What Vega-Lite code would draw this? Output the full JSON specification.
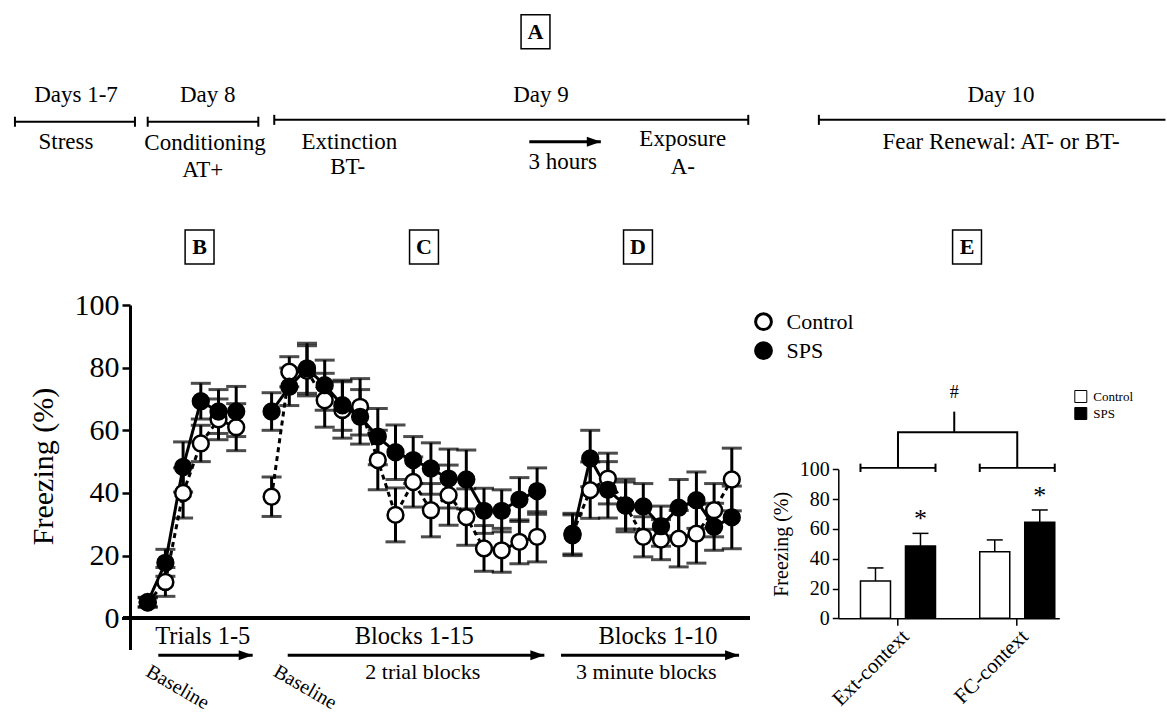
{
  "$schema": "https://vega.github.io/schema/vega-lite/v6.json",
  "padding": {"left": 13, "top": 11, "right": 0, "bottom": 0},
  "background": "white",
  "config": {
    "font": "Liberation Serif",
    "view": {"stroke": null},
    "axis": {"grid": false, "domainColor": "black", "tickColor": "black", "labelColor": "black", "titleColor": "black", "titleFontWeight": "normal"},
    "legend": {"labelColor": "black"},
    "text": {"color": "black"}
  },
  "datasets": {
    "sessions": [
      {"phase": "Conditioning", "session": 0, "group": "Control", "freezing": 5.0, "sem": 1.5},
      {"phase": "Conditioning", "session": 0, "group": "SPS", "freezing": 5.2, "sem": 1.5},
      {"phase": "Conditioning", "session": 1, "group": "Control", "freezing": 11.6, "sem": 4.6},
      {"phase": "Conditioning", "session": 1, "group": "SPS", "freezing": 17.7, "sem": 4.3},
      {"phase": "Conditioning", "session": 2, "group": "Control", "freezing": 40.0, "sem": 8.0},
      {"phase": "Conditioning", "session": 2, "group": "SPS", "freezing": 48.3, "sem": 8.0},
      {"phase": "Conditioning", "session": 3, "group": "Control", "freezing": 55.8, "sem": 5.8},
      {"phase": "Conditioning", "session": 3, "group": "SPS", "freezing": 69.3, "sem": 5.7},
      {"phase": "Conditioning", "session": 4, "group": "Control", "freezing": 63.5, "sem": 6.5},
      {"phase": "Conditioning", "session": 4, "group": "SPS", "freezing": 66.0, "sem": 7.0},
      {"phase": "Conditioning", "session": 5, "group": "Control", "freezing": 61.0, "sem": 7.5},
      {"phase": "Conditioning", "session": 5, "group": "SPS", "freezing": 66.0, "sem": 8.0},
      {"phase": "Extinction", "session": 7, "group": "Control", "freezing": 38.8, "sem": 6.3},
      {"phase": "Extinction", "session": 7, "group": "SPS", "freezing": 66.0, "sem": 6.0},
      {"phase": "Extinction", "session": 8, "group": "Control", "freezing": 78.7, "sem": 4.8},
      {"phase": "Extinction", "session": 8, "group": "SPS", "freezing": 73.9, "sem": 6.0},
      {"phase": "Extinction", "session": 9, "group": "Control", "freezing": 79.0, "sem": 8.0},
      {"phase": "Extinction", "session": 9, "group": "SPS", "freezing": 79.8, "sem": 8.0},
      {"phase": "Extinction", "session": 10, "group": "Control", "freezing": 69.6, "sem": 8.6},
      {"phase": "Extinction", "session": 10, "group": "SPS", "freezing": 74.4, "sem": 8.0},
      {"phase": "Extinction", "session": 11, "group": "Control", "freezing": 66.5, "sem": 9.0},
      {"phase": "Extinction", "session": 11, "group": "SPS", "freezing": 68.0, "sem": 8.0},
      {"phase": "Extinction", "session": 12, "group": "Control", "freezing": 67.5, "sem": 9.0},
      {"phase": "Extinction", "session": 12, "group": "SPS", "freezing": 64.3, "sem": 8.7},
      {"phase": "Extinction", "session": 13, "group": "Control", "freezing": 50.5, "sem": 9.5},
      {"phase": "Extinction", "session": 13, "group": "SPS", "freezing": 58.0, "sem": 9.0},
      {"phase": "Extinction", "session": 14, "group": "Control", "freezing": 33.0, "sem": 8.6},
      {"phase": "Extinction", "session": 14, "group": "SPS", "freezing": 53.0, "sem": 8.7},
      {"phase": "Extinction", "session": 15, "group": "Control", "freezing": 43.5, "sem": 8.0},
      {"phase": "Extinction", "session": 15, "group": "SPS", "freezing": 50.5, "sem": 7.5},
      {"phase": "Extinction", "session": 16, "group": "Control", "freezing": 34.5, "sem": 8.5},
      {"phase": "Extinction", "session": 16, "group": "SPS", "freezing": 47.8, "sem": 8.2},
      {"phase": "Extinction", "session": 17, "group": "Control", "freezing": 39.3, "sem": 9.6},
      {"phase": "Extinction", "session": 17, "group": "SPS", "freezing": 44.6, "sem": 9.4},
      {"phase": "Extinction", "session": 18, "group": "Control", "freezing": 32.3, "sem": 9.0},
      {"phase": "Extinction", "session": 18, "group": "SPS", "freezing": 44.3, "sem": 9.4},
      {"phase": "Extinction", "session": 19, "group": "Control", "freezing": 22.3, "sem": 7.3},
      {"phase": "Extinction", "session": 19, "group": "SPS", "freezing": 34.3, "sem": 7.2},
      {"phase": "Extinction", "session": 20, "group": "Control", "freezing": 21.7, "sem": 7.0},
      {"phase": "Extinction", "session": 20, "group": "SPS", "freezing": 34.3, "sem": 6.7},
      {"phase": "Extinction", "session": 21, "group": "Control", "freezing": 24.4, "sem": 7.0},
      {"phase": "Extinction", "session": 21, "group": "SPS", "freezing": 37.9, "sem": 7.0},
      {"phase": "Extinction", "session": 22, "group": "Control", "freezing": 26.0, "sem": 8.0},
      {"phase": "Extinction", "session": 22, "group": "SPS", "freezing": 40.6, "sem": 7.4},
      {"phase": "Exposure", "session": 24, "group": "Control", "freezing": 27.0, "sem": 6.5},
      {"phase": "Exposure", "session": 24, "group": "SPS", "freezing": 26.5, "sem": 6.5},
      {"phase": "Exposure", "session": 25, "group": "Control", "freezing": 40.9, "sem": 9.0},
      {"phase": "Exposure", "session": 25, "group": "SPS", "freezing": 51.0, "sem": 9.0},
      {"phase": "Exposure", "session": 26, "group": "Control", "freezing": 44.6, "sem": 8.1},
      {"phase": "Exposure", "session": 26, "group": "SPS", "freezing": 41.0, "sem": 9.0},
      {"phase": "Exposure", "session": 27, "group": "Control", "freezing": 36.0, "sem": 8.4},
      {"phase": "Exposure", "session": 27, "group": "SPS", "freezing": 36.0, "sem": 7.5},
      {"phase": "Exposure", "session": 28, "group": "Control", "freezing": 26.0, "sem": 6.4},
      {"phase": "Exposure", "session": 28, "group": "SPS", "freezing": 35.7, "sem": 7.3},
      {"phase": "Exposure", "session": 29, "group": "Control", "freezing": 25.1, "sem": 6.4},
      {"phase": "Exposure", "session": 29, "group": "SPS", "freezing": 29.4, "sem": 6.4},
      {"phase": "Exposure", "session": 30, "group": "Control", "freezing": 25.4, "sem": 9.0},
      {"phase": "Exposure", "session": 30, "group": "SPS", "freezing": 35.3, "sem": 9.0},
      {"phase": "Exposure", "session": 31, "group": "Control", "freezing": 27.0, "sem": 9.4},
      {"phase": "Exposure", "session": 31, "group": "SPS", "freezing": 37.7, "sem": 9.0},
      {"phase": "Exposure", "session": 32, "group": "Control", "freezing": 34.5, "sem": 8.5},
      {"phase": "Exposure", "session": 32, "group": "SPS", "freezing": 29.2, "sem": 7.5},
      {"phase": "Exposure", "session": 33, "group": "Control", "freezing": 44.3, "sem": 10.0},
      {"phase": "Exposure", "session": 33, "group": "SPS", "freezing": 32.2, "sem": 10.0}
    ],
    "timeline": [
      {"start": -7.5, "end": -0.72, "level": 158.5},
      {"start": 0, "end": 6.25, "level": 158.5},
      {"start": 7.15, "end": 33.93, "level": 159.1},
      {"start": 37.92, "end": 57.5, "level": 159.1}
    ],
    "timeticks": [
      {"at": -7.5, "lo": 156.9, "hi": 160.1},
      {"at": -0.72, "lo": 156.9, "hi": 160.1},
      {"at": 0, "lo": 156.9, "hi": 160.1},
      {"at": 6.25, "lo": 156.9, "hi": 160.1},
      {"at": 7.15, "lo": 157.5, "hi": 160.7},
      {"at": 33.93, "lo": 157.5, "hi": 160.7},
      {"at": 37.92, "lo": 157.5, "hi": 160.7}
    ],
    "arrows": [
      {"start": 21.56, "end": 25.6, "level": 152.1},
      {"start": 0.6, "end": 5.93, "level": -11.81},
      {"start": 7.91, "end": 22.41, "level": -11.81},
      {"start": 23.35, "end": 33.41, "level": -11.81}
    ],
    "timelabels": [
      {"label": "Days 1-7", "at": -4.05, "level": 167.0},
      {"label": "Stress", "at": -4.62, "level": 152.1},
      {"label": "Day 8", "at": 3.39, "level": 167.0},
      {"label": "Conditioning", "at": 3.24, "level": 151.6},
      {"label": "AT+", "at": 3.11, "level": 143.0},
      {"label": "Extinction", "at": 11.39, "level": 152.1},
      {"label": "BT-", "at": 11.3, "level": 144.2},
      {"label": "Day 9", "at": 22.22, "level": 167.0},
      {"label": "3 hours", "at": 23.45, "level": 145.8},
      {"label": "Exposure", "at": 30.23, "level": 152.9},
      {"label": "A-", "at": 30.23, "level": 144.0},
      {"label": "Day 10", "at": 48.21, "level": 167.0},
      {"label": "Fear Renewal: AT- or BT-", "at": 48.21, "level": 152.1}
    ],
    "phaselabels": [
      {"label": "Trials 1-5", "at": 3.11, "level": -5.97},
      {"label": "Blocks 1-15", "at": 15.06, "level": -5.97},
      {"label": "Blocks 1-10", "at": 28.83, "level": -5.97}
    ],
    "sublabels": [
      {"label": "2 trial blocks", "at": 15.54, "level": -17.14},
      {"label": "3 minute blocks", "at": 28.17, "level": -17.14}
    ],
    "baselines": [
      {"label": "Baseline", "at": 1.69, "level": -22.0},
      {"label": "Baseline", "at": 8.89, "level": -22.0}
    ],
    "panels": [
      {"label": "A", "at": 21.91, "level": 187.2},
      {"label": "B", "at": 2.93, "level": 118.5},
      {"label": "C", "at": 15.61, "level": 118.5},
      {"label": "D", "at": 27.7, "level": 118.5},
      {"label": "E", "at": 46.29, "level": 118.5}
    ],
    "contexts": [
      {"context": "Ext-context", "group": "Control", "freezing": 25.1, "upper": 33.8},
      {"context": "Ext-context", "group": "SPS", "freezing": 48.5, "upper": 57.0},
      {"context": "FC-context", "group": "Control", "freezing": 44.7, "upper": 52.6},
      {"context": "FC-context", "group": "SPS", "freezing": 64.4, "upper": 72.7}
    ],
    "bracket": [
      {"context": "Ext-context", "level": 101, "step": 1},
      {"context": "Ext-context", "level": 124.8, "step": 2},
      {"context": "FC-context", "level": 124.8, "step": 3},
      {"context": "FC-context", "level": 101, "step": 4}
    ],
    "bracketends": [
      {"context": "Ext-context"},
      {"context": "FC-context"}
    ],
    "hub": [
      {"context": "Ext-context", "label": "#"}
    ]
  },
  "hconcat": [
    {
      "width": 619.5,
      "height": 344.6,
      "layer": [
        {
          "data": {"name": "sessions"},
          "mark": {"type": "line", "color": "black", "strokeWidth": 3},
          "encoding": {
            "x": {"field": "session", "type": "quantitative", "scale": {"domain": [-1, 34], "nice": false, "zero": false}, "axis": null},
            "y": {"field": "freezing", "type": "quantitative", "title": "Freezing (%)", "scale": {"domain": [-10, 100], "nice": false, "zero": false},
              "axis": {"values": [0, 20, 40, 60, 80, 100], "title": "Freezing (%)", "titleFontSize": 30, "labelFontSize": 30, "tickSize": 8, "tickWidth": 2.5, "domainWidth": 3, "labelPadding": 3, "titlePadding": 16, "titleY": 161, "labelFlush": false}},
            "detail": {"field": "phase", "type": "nominal"},
            "strokeDash": {"field": "group", "type": "nominal", "scale": {"domain": ["Control", "SPS"], "range": [[5, 4], [1, 0]]}, "legend": null}
          }
        },
        {
          "data": {"name": "sessions"},
          "mark": {"type": "errorbar", "color": "black", "thickness": 3, "size": 20, "ticks": true},
          "encoding": {
            "x": {"field": "session", "type": "quantitative", "axis": null},
            "y": {"field": "freezing", "type": "quantitative", "title": "Freezing (%)"},
            "yError": {"field": "sem"}
          }
        },
        {
          "data": {"name": "sessions"},
          "mark": {"type": "point", "shape": "circle", "filled": true, "size": 250, "stroke": "black", "strokeWidth": 2.5, "opacity": 1},
          "encoding": {
            "x": {"field": "session", "type": "quantitative", "axis": null},
            "y": {"field": "freezing", "type": "quantitative", "title": "Freezing (%)"},
            "fill": {"field": "group", "type": "nominal", "scale": {"domain": ["Control", "SPS"], "range": ["white", "black"]},
              "legend": {"title": null, "orient": "none", "legendX": 622.5, "legendY": 5.7, "labelFontSize": 22, "symbolSize": 250, "symbolStrokeColor": "black", "symbolStrokeWidth": 3, "symbolType": "circle", "padding": 0, "labelOffset": 12, "rowPadding": 1}}
          }
        },
        {
          "data": {"name": "sessions"},
          "mark": {"type": "rule", "color": "black", "strokeWidth": 3},
          "encoding": {
            "x": {"datum": -1.4, "type": "quantitative", "axis": null},
            "x2": {"datum": 34},
            "y": {"datum": 0, "type": "quantitative", "title": "Freezing (%)"}
          }
        },
        {
          "data": {"name": "timeline"},
          "mark": {"type": "rule", "color": "black", "strokeWidth": 2},
          "encoding": {
            "x": {"field": "start", "type": "quantitative", "axis": null},
            "x2": {"field": "end"},
            "y": {"field": "level", "type": "quantitative", "title": "Freezing (%)"}
          }
        },
        {
          "data": {"name": "timeticks"},
          "mark": {"type": "rule", "color": "black", "strokeWidth": 2},
          "encoding": {
            "x": {"field": "at", "type": "quantitative", "axis": null},
            "y": {"field": "lo", "type": "quantitative", "title": "Freezing (%)"},
            "y2": {"field": "hi"}
          }
        },
        {
          "data": {"name": "arrows"},
          "mark": {"type": "rule", "color": "black", "strokeWidth": 3},
          "encoding": {
            "x": {"field": "start", "type": "quantitative", "axis": null},
            "x2": {"field": "end"},
            "y": {"field": "level", "type": "quantitative", "title": "Freezing (%)"}
          }
        },
        {
          "data": {"name": "arrows"},
          "mark": {"type": "point", "shape": "M0,0L-1,-0.36L-1,0.36Z", "size": 784, "filled": true, "color": "black", "opacity": 1},
          "encoding": {
            "x": {"field": "end", "type": "quantitative", "axis": null},
            "y": {"field": "level", "type": "quantitative", "title": "Freezing (%)"}
          }
        },
        {
          "data": {"name": "timelabels"},
          "mark": {"type": "text", "fontSize": 23, "align": "center", "baseline": "middle"},
          "encoding": {
            "x": {"field": "at", "type": "quantitative", "axis": null},
            "y": {"field": "level", "type": "quantitative", "title": "Freezing (%)"},
            "text": {"field": "label"}
          }
        },
        {
          "data": {"name": "phaselabels"},
          "mark": {"type": "text", "fontSize": 24.5, "align": "center", "baseline": "middle"},
          "encoding": {
            "x": {"field": "at", "type": "quantitative", "axis": null},
            "y": {"field": "level", "type": "quantitative", "title": "Freezing (%)"},
            "text": {"field": "label"}
          }
        },
        {
          "data": {"name": "sublabels"},
          "mark": {"type": "text", "fontSize": 22, "align": "center", "baseline": "middle"},
          "encoding": {
            "x": {"field": "at", "type": "quantitative", "axis": null},
            "y": {"field": "level", "type": "quantitative", "title": "Freezing (%)"},
            "text": {"field": "label"}
          }
        },
        {
          "data": {"name": "baselines"},
          "mark": {"type": "text", "fontSize": 20, "angle": 30, "align": "center", "baseline": "middle"},
          "encoding": {
            "x": {"field": "at", "type": "quantitative", "axis": null},
            "y": {"field": "level", "type": "quantitative", "title": "Freezing (%)"},
            "text": {"field": "label"}
          }
        },
        {
          "data": {"name": "panels"},
          "mark": {"type": "point", "shape": "M-0.85,-1H0.85V1H-0.85Z", "size": 1156, "filled": false, "stroke": "black", "strokeWidth": 1.5, "opacity": 1},
          "encoding": {
            "x": {"field": "at", "type": "quantitative", "axis": null},
            "y": {"field": "level", "type": "quantitative", "title": "Freezing (%)"}
          }
        },
        {
          "data": {"name": "panels"},
          "mark": {"type": "text", "fontSize": 22, "fontWeight": "bold", "align": "center", "baseline": "middle"},
          "encoding": {
            "x": {"field": "at", "type": "quantitative", "axis": null},
            "y": {"field": "level", "type": "quantitative", "title": "Freezing (%)"},
            "text": {"field": "label"}
          }
        }
      ]
    },
    {
      "width": 221,
      "height": 313.3,
      "layer": [
        {
          "data": {"name": "contexts"},
          "mark": {"type": "bar", "stroke": "black", "strokeWidth": 1.5},
          "encoding": {
            "x": {"field": "context", "type": "nominal", "sort": null, "title": null,
              "scale": {"domain": ["Ext-context", "FC-context"], "paddingInner": 0.371, "paddingOuter": 0.112, "align": 0.83},
              "axis": {"title": null, "labelAngle": -45, "labelFontSize": 21, "tickSize": 7, "tickWidth": 1.5, "domainWidth": 1.5, "labelPadding": 0}},
            "xOffset": {"field": "group", "type": "nominal", "scale": {"domain": ["Control", "SPS"], "paddingInner": 0.333, "paddingOuter": 0}},
            "y": {"field": "freezing", "type": "quantitative", "title": "Freezing (%)", "scale": {"domain": [0, 100], "range": [313.3, 164.3], "nice": false},
              "axis": {"values": [0, 20, 40, 60, 80, 100], "title": "Freezing (%)", "titleFontSize": 20, "labelFontSize": 20, "tickSize": 6, "tickWidth": 1.5, "domainWidth": 1.5, "labelPadding": 3, "titlePadding": 8, "labelFlush": false}},
            "fill": {"field": "group", "type": "nominal", "scale": {"domain": ["Control", "SPS"], "range": ["white", "black"]},
              "legend": {"title": null, "orient": "none", "legendX": 236, "legendY": 85, "symbolType": "square", "symbolSize": 144, "symbolStrokeColor": "black", "symbolStrokeWidth": 1, "labelFontSize": 13, "padding": 0, "rowPadding": 0, "labelOffset": 6}}
          }
        },
        {
          "data": {"name": "contexts"},
          "mark": {"type": "rule", "color": "black", "strokeWidth": 1.5},
          "encoding": {
            "x": {"field": "context", "type": "nominal", "title": null},
            "xOffset": {"field": "group", "type": "nominal"},
            "y": {"field": "freezing", "type": "quantitative", "title": "Freezing (%)"},
            "y2": {"field": "upper"}
          }
        },
        {
          "data": {"name": "contexts"},
          "mark": {"type": "tick", "orient": "horizontal", "size": 16, "thickness": 1.5, "color": "black", "opacity": 1},
          "encoding": {
            "x": {"field": "context", "type": "nominal", "title": null},
            "xOffset": {"field": "group", "type": "nominal"},
            "y": {"field": "upper", "type": "quantitative", "title": "Freezing (%)"}
          }
        },
        {
          "data": {"name": "contexts"},
          "transform": [{"filter": "datum.group === 'SPS'"}],
          "mark": {"type": "text", "text": "*", "fontSize": 26, "baseline": "alphabetic", "align": "center", "dy": -6},
          "encoding": {
            "x": {"field": "context", "type": "nominal", "title": null},
            "xOffset": {"field": "group", "type": "nominal"},
            "y": {"field": "upper", "type": "quantitative", "title": "Freezing (%)"}
          }
        },
        {
          "data": {"name": "bracket"},
          "mark": {"type": "line", "color": "black", "strokeWidth": 2},
          "encoding": {
            "x": {"field": "context", "type": "nominal", "title": null},
            "y": {"field": "level", "type": "quantitative", "title": "Freezing (%)"},
            "order": {"field": "step", "type": "quantitative"}
          }
        },
        {
          "data": {"name": "bracketends"},
          "mark": {"type": "bar", "color": "black"},
          "encoding": {
            "x": {"field": "context", "type": "nominal", "title": null},
            "y": {"datum": 100.4, "type": "quantitative", "title": "Freezing (%)"},
            "y2": {"datum": 101.6}
          }
        },
        {
          "data": {"name": "bracketends"},
          "mark": {"type": "rule", "color": "black", "strokeWidth": 2},
          "encoding": {
            "x": {"field": "context", "type": "nominal", "bandPosition": 0, "title": null},
            "y": {"datum": 98.2, "type": "quantitative", "title": "Freezing (%)"},
            "y2": {"datum": 103.8}
          }
        },
        {
          "data": {"name": "bracketends"},
          "mark": {"type": "rule", "color": "black", "strokeWidth": 2},
          "encoding": {
            "x": {"field": "context", "type": "nominal", "bandPosition": 1, "title": null},
            "y": {"datum": 98.2, "type": "quantitative", "title": "Freezing (%)"},
            "y2": {"datum": 103.8}
          }
        },
        {
          "data": {"name": "hub"},
          "mark": {"type": "rule", "color": "black", "strokeWidth": 2},
          "encoding": {
            "x": {"field": "context", "type": "nominal", "bandPosition": 1.25, "title": null},
            "y": {"datum": 124.8, "type": "quantitative", "title": "Freezing (%)"},
            "y2": {"datum": 138.7}
          }
        },
        {
          "data": {"name": "hub"},
          "mark": {"type": "text", "fontSize": 18, "align": "center", "baseline": "middle"},
          "encoding": {
            "x": {"field": "context", "type": "nominal", "bandPosition": 1.25, "title": null},
            "y": {"datum": 151, "type": "quantitative", "title": "Freezing (%)"},
            "text": {"field": "label"}
          }
        }
      ]
    }
  ],
  "spacing": 88.3,
  "bounds": "flush",
  "resolve": {"scale": {"fill": "independent"}, "legend": {"fill": "independent"}}
}
